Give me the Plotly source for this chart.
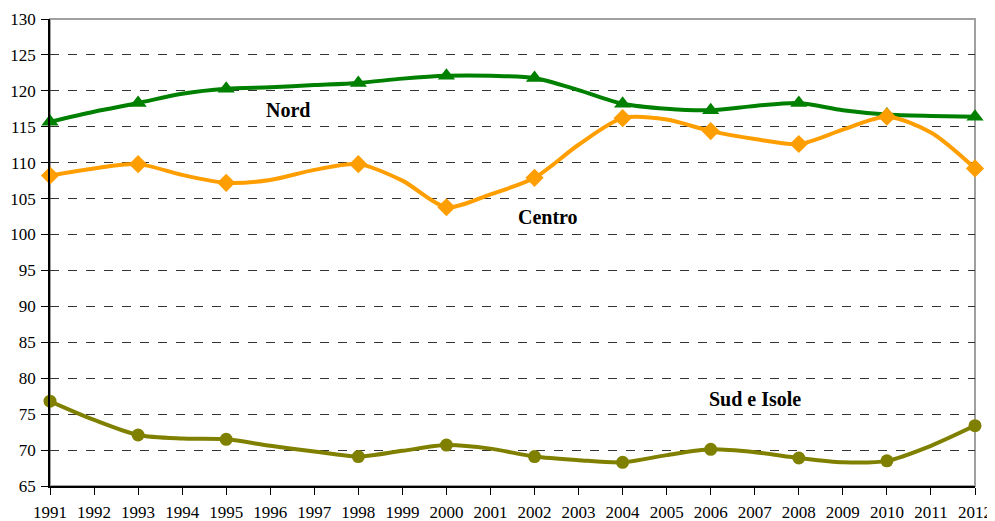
import plotly.graph_objects as go

years = list(range(1991, 2013))
nord = [115.7, 117.1, 118.3, 119.6, 120.3, 120.5, 120.8, 121.1, 121.7, 122.1, 122.1, 121.8,
        120.1, 118.2, 117.5, 117.3, 117.9, 118.3, 117.3, 116.7, 116.5, 116.4]
centro = [108.2, 109.2, 109.8, 108.3, 107.2, 107.6, 109.0, 109.8, 107.5, 103.8, 105.6, 107.9,
          112.5, 116.2, 116.0, 114.4, 113.3, 112.6, 114.6, 116.4, 114.2, 109.2]
sud = [76.8, 74.2, 72.1, 71.6, 71.5, 70.6, 69.8, 69.1, 69.9, 70.7, 70.2, 69.1,
       68.6, 68.3, 69.3, 70.1, 69.7, 68.9, 68.3, 68.5, 70.6, 73.4]
marker_years = [1991, 1993, 1995, 1998, 2000, 2002, 2004, 2006, 2008, 2010, 2012]

labels = ["Nord", "Centro", "Sud e Isole"]
label_pos = [(1996.4, 117.4), (2002.3, 102.5), (2007.0, 77.1)]

SERIF = "Liberation Serif, Times New Roman, serif"

def sizes(s):
    return [s if y in marker_years else 0 for y in years]

fig = go.Figure()
fig.add_trace(go.Scatter(
    x=years, y=nord, mode="lines+markers", name="Nord", cliponaxis=False,
    line=dict(color="#008000", width=4, shape="spline", smoothing=0.8),
    marker=dict(symbol="triangle-up", size=sizes(15), color="#008000", opacity=1, line=dict(width=0)),
))
fig.add_trace(go.Scatter(
    x=years, y=centro, mode="lines+markers", name="Centro", cliponaxis=False,
    line=dict(color="#FF9E00", width=4, shape="spline", smoothing=0.8),
    marker=dict(symbol="diamond", size=sizes(14), color="#FF9E00", opacity=1, line=dict(width=0)),
))
fig.add_trace(go.Scatter(
    x=years, y=sud, mode="lines+markers", name="Sud e Isole", cliponaxis=False,
    line=dict(color="#808000", width=4, shape="spline", smoothing=0.8),
    marker=dict(symbol="circle", size=sizes(13), color="#808000", opacity=1, line=dict(width=0)),
))

for lab, (lx, ly) in zip(labels, label_pos):
    fig.add_annotation(x=lx, y=ly, text="<b>" + lab + "</b>", showarrow=False,
                       font=dict(family=SERIF, size=20, color="black"))

# grey frame on top/right like the source
fig.add_shape(type="rect", xref="paper", yref="paper", x0=0, y0=0, x1=1, y1=1,
              line=dict(color="#A0A0A0", width=2), layer="below")

# page body adds an 8px offset, margins compensate for it
fig.update_layout(
    width=995, height=521,
    margin=dict(l=42, r=28, t=11, b=43),
    plot_bgcolor="white", paper_bgcolor="white",
    showlegend=False,
    font=dict(family=SERIF, size=17, color="black"),
)
fig.update_xaxes(
    range=[1991, 2012], tickmode="array", tickvals=years,
    showgrid=False, zeroline=False, automargin=False,
    showline=True, linecolor="black", linewidth=1.5,
    ticks="outside", ticklen=7, tickcolor="black",
    ticklabelstandoff=3,
    tickfont=dict(family=SERIF, size=17),
)
fig.update_yaxes(
    range=[65, 130], dtick=5, tick0=65,
    showgrid=True, gridcolor="#333333", griddash="dash", gridwidth=1,
    zeroline=False, automargin=False,
    showline=True, linecolor="black", linewidth=1.5,
    ticks="outside", ticklen=7, tickcolor="black",
    ticklabelstandoff=2,
    tickfont=dict(family=SERIF, size=17),
)

fig.write_html("out.html")
